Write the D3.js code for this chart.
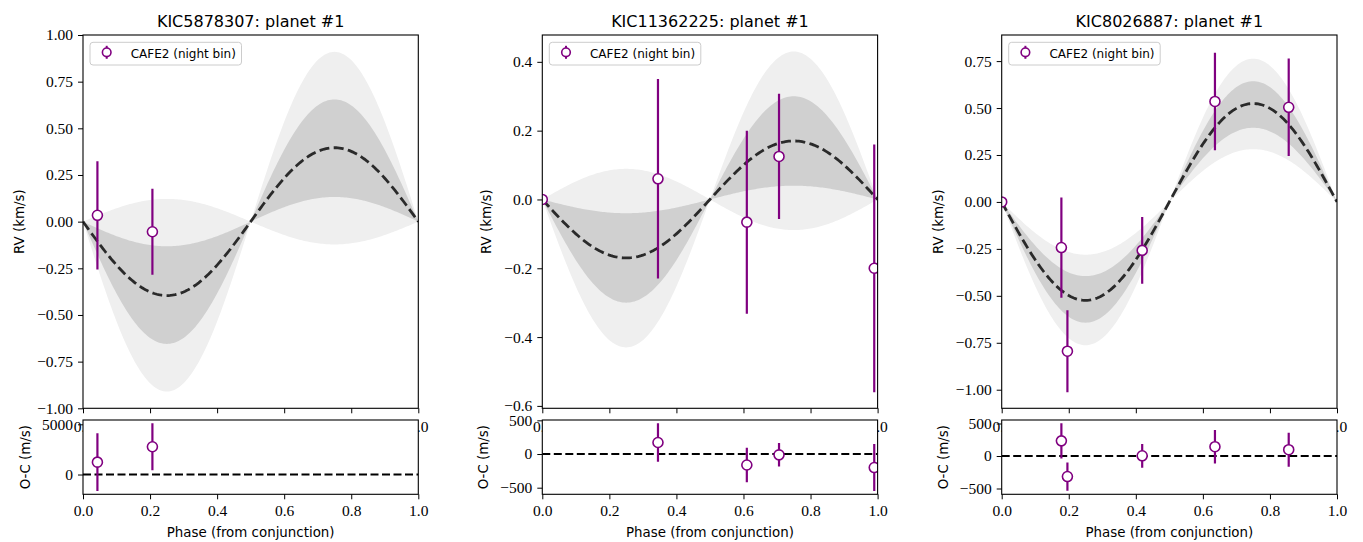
<!DOCTYPE html>
<html>
<head>
<meta charset="utf-8">
<script src="https://cdn.jsdelivr.net/npm/d3@7"></script>
<style>
body { margin: 0; background: #fff; }
.lbl { font-family: "DejaVu Sans", sans-serif; font-size: 13.4px; fill: #000; }
</style>
</head>
<body>
<svg id="chart" width="1363" height="542"></svg>
<script>
// Datos
const starNames = ["KIC5878307", "KIC11362225", "KIC8026887"];

// RV (km/s) por fase
const phase1 = [0.043, 0.207];
const rv1 = [0.034, -0.054];
const rvErr1 = [0.29, 0.23];
const phase2 = [0.0, 0.345, 0.61, 0.706, 0.99];
const rv2 = [0.0, 0.06, -0.066, 0.125, -0.2];
const rvErr2 = [0, 0.29, 0.266, 0.182, 0.36];
const phase3 = [0.0, 0.178, 0.196, 0.419, 0.636, 0.856];
const rv3 = [0.0, -0.243, -0.795, -0.258, 0.535, 0.504];
const rvErr3 = [0, 0.267, 0.218, 0.178, 0.26, 0.26];

// Residuos O-C (m/s)
const resPhase1 = [0.043, 0.207];
const res1 = [1230, 2765];
const resErr1 = [2870, 2335];
const resPhase2 = [0.345, 0.61, 0.706, 0.99];
const res2 = [171, -163, -12, -201];
const resErr2 = [285, 257, 174, 349];
const resPhase3 = [0.178, 0.196, 0.419, 0.636, 0.856];
const res3 = [233, -316, 3, 143, 97];
const resErr3 = [270, 218, 182, 257, 262];

// Semi-amplitud del modelo y bandas (rango de K)
const modelK = [0.396, 0.170, 0.524];
const band1sigma = [[0.132, 0.655], [0.040, 0.300], [0.395, 0.643]];
const band2sigma = [[-0.122, 0.91], [-0.089, 0.43], [0.281, 0.763]];

// Ejes
const rvDomains = [[-1, 1], [-0.607, 0.478], [-1.099, 0.889]];
const rvTicks = [
    [-1, -0.75, -0.5, -0.25, 0, 0.25, 0.5, 0.75, 1],
    [-0.6, -0.4, -0.2, 0, 0.2, 0.4],
    [-1, -0.75, -0.5, -0.25, 0, 0.25, 0.5, 0.75]
];
const rvFormats = [".2f", ".1f", ".2f"];
const resDomains = [[-1970, 5430], [-598, 505], [-589, 554]];
const resTicks = [[0, 5000], [-500, 0, 500], [-500, 0, 500]];
const phaseTicks = [0, 0.2, 0.4, 0.6, 0.8, 1.0];

const panels = [
    { phase: phase1, rv: rv1, err: rvErr1, rph: resPhase1, res: res1, rerr: resErr1 },
    { phase: phase2, rv: rv2, err: rvErr2, rph: resPhase2, res: res2, rerr: resErr2 },
    { phase: phase3, rv: rv3, err: rvErr3, rph: resPhase3, res: res3, rerr: resErr3 }
];

// Layout
const lefts = [83, 542.3, 1001.7];
const panelW = 335.3;
const mainTop = 35, mainBottom = 408.3;
const resTop = 420, resBottom = 494.3;
const purple = "#800080";

const svg = d3.select("#chart");
const defs = svg.append("defs");

function styleAxis(g) {
    g.select(".domain").remove();
    g.attr("font-family", "'Liberation Serif', serif").attr("font-size", 15.5);
    g.selectAll(".tick line").attr("stroke", "#000").attr("stroke-width", 1);
    g.selectAll(".tick text").attr("fill", "#000");
}

function drawPoints(g, xs, ys, es, x, y) {
    const pts = xs.map((p, i) => ({ p: p, v: ys[i], e: es[i] }));
    g.selectAll(".eb").data(pts.filter(d => d.e > 0)).enter()
        .append("line")
        .attr("x1", d => x(d.p)).attr("x2", d => x(d.p))
        .attr("y1", d => y(d.v - d.e)).attr("y2", d => y(d.v + d.e))
        .attr("stroke", purple).attr("stroke-width", 2.2);
    g.selectAll(".pt").data(pts).enter()
        .append("circle")
        .attr("cx", d => x(d.p)).attr("cy", d => y(d.v)).attr("r", 5)
        .attr("fill", "#fff").attr("stroke", purple).attr("stroke-width", 1.6);
}

panels.forEach((pd, i) => {
    const left = lefts[i];
    const x = d3.scaleLinear().domain([0, 1]).range([left, left + panelW]);
    const y = d3.scaleLinear().domain(rvDomains[i]).range([mainBottom, mainTop]);
    const yr = d3.scaleLinear().domain(resDomains[i]).range([resBottom, resTop]);

    defs.append("clipPath").attr("id", "clipMain" + i).append("rect")
        .attr("x", left).attr("y", mainTop).attr("width", panelW).attr("height", mainBottom - mainTop);
    defs.append("clipPath").attr("id", "clipRes" + i).append("rect")
        .attr("x", left).attr("y", resTop).attr("width", panelW).attr("height", resBottom - resTop);

    // ---- Panel principal ----
    const main = svg.append("g");
    const plot = main.append("g").attr("clip-path", `url(#clipMain${i})`);

    const grid = d3.range(0, 1.0001, 0.005);
    const bandArea = (lo, hi) => d3.area()
        .x(p => x(p))
        .y0(p => y(-lo * Math.sin(2 * Math.PI * p)))
        .y1(p => y(-hi * Math.sin(2 * Math.PI * p)));

    plot.append("path").datum(grid)
        .attr("d", bandArea(band2sigma[i][0], band2sigma[i][1]))
        .attr("fill", "#efefef");
    plot.append("path").datum(grid)
        .attr("d", bandArea(band1sigma[i][0], band1sigma[i][1]))
        .attr("fill", "#d0d0d0");
    plot.append("path").datum(grid)
        .attr("d", d3.line().x(p => x(p)).y(p => y(-modelK[i] * Math.sin(2 * Math.PI * p))))
        .attr("fill", "none").attr("stroke", "#2a2a2a").attr("stroke-width", 2.8)
        .attr("stroke-dasharray", "10,4.4");

    drawPoints(plot, pd.phase, pd.rv, pd.err, x, y);

    const yAx = main.append("g").attr("transform", `translate(${left},0)`)
        .call(d3.axisLeft(y).tickValues(rvTicks[i]).tickFormat(d3.format(rvFormats[i])).tickSize(5).tickPadding(5));
    styleAxis(yAx);
    // etiquetas x del panel principal (quedan tapadas por el panel de residuos)
    const xAxMain = main.append("g").attr("transform", `translate(0,${mainBottom})`)
        .call(d3.axisBottom(x).tickValues(phaseTicks).tickFormat(d3.format(".1f")).tickSize(5).tickPadding(8));
    styleAxis(xAxMain);

    main.append("rect").attr("x", left).attr("y", mainTop).attr("width", panelW).attr("height", mainBottom - mainTop)
        .attr("fill", "none").attr("stroke", "#000").attr("stroke-width", 1.1);

    // Título
    const title = main.append("text").attr("class", "lbl")
        .attr("x", left + panelW / 2).attr("y", 27).attr("text-anchor", "middle")
        .style("font-size", "16px");
    title.append("tspan").text(`${starNames[i]}: planet `);
    title.append("tspan").style("font-family", "'DejaVu Serif', serif").text("#");
    title.append("tspan").text("1");

    // Leyenda
    const lg = main.append("g").attr("transform", `translate(${left + 7},${mainTop + 7.3})`);
    lg.append("rect").attr("width", 151.5).attr("height", 22.7).attr("rx", 3)
        .attr("fill", "#fff").attr("fill-opacity", 0.8).attr("stroke", "#cccccc").attr("stroke-width", 1);
    lg.append("line").attr("x1", 16.7).attr("x2", 16.7).attr("y1", 3.5).attr("y2", 16.5)
        .attr("stroke", purple).attr("stroke-width", 2);
    lg.append("circle").attr("cx", 16.7).attr("cy", 10).attr("r", 4.3)
        .attr("fill", "#fff").attr("stroke", purple).attr("stroke-width", 1.6);
    lg.append("text").attr("class", "lbl").attr("x", 40.7).attr("y", 15.3)
        .style("font-size", "12px").text("CAFE2 (night bin)");

    const yb = yAx.node().getBBox();
    main.append("text").attr("class", "lbl")
        .attr("transform", `translate(${left + yb.x - 13},${(mainTop + mainBottom) / 2}) rotate(-90)`)
        .attr("text-anchor", "middle").text("RV (km/s)");

    // ---- Panel de residuos ----
    const resG = svg.append("g");
    resG.append("rect").attr("x", left).attr("y", resTop).attr("width", panelW).attr("height", resBottom - resTop)
        .attr("fill", "#fff");
    const rplot = resG.append("g").attr("clip-path", `url(#clipRes${i})`);
    rplot.append("line").attr("x1", x(0)).attr("x2", x(1)).attr("y1", yr(0)).attr("y2", yr(0))
        .attr("stroke", "#000").attr("stroke-width", 2).attr("stroke-dasharray", "8,3.5");
    drawPoints(rplot, pd.rph, pd.res, pd.rerr, x, yr);

    const yrAx = resG.append("g").attr("transform", `translate(${left},0)`)
        .call(d3.axisLeft(yr).tickValues(resTicks[i]).tickFormat(d3.format("d")).tickSize(5).tickPadding(5));
    styleAxis(yrAx);
    const xrAx = resG.append("g").attr("transform", `translate(0,${resBottom})`)
        .call(d3.axisBottom(x).tickValues(phaseTicks).tickFormat(d3.format(".1f")).tickSize(5).tickPadding(6));
    styleAxis(xrAx);
    resG.append("rect").attr("x", left).attr("y", resTop).attr("width", panelW).attr("height", resBottom - resTop)
        .attr("fill", "none").attr("stroke", "#000").attr("stroke-width", 1.1);

    const yrb = yrAx.node().getBBox();
    resG.append("text").attr("class", "lbl")
        .attr("transform", `translate(${left + yrb.x - 12},${(resTop + resBottom) / 2}) rotate(-90)`)
        .attr("text-anchor", "middle").text("O-C (m/s)");
    resG.append("text").attr("class", "lbl")
        .attr("x", left + panelW / 2).attr("y", 537).attr("text-anchor", "middle")
        .text("Phase (from conjunction)");
});
</script>
</body>
</html>
